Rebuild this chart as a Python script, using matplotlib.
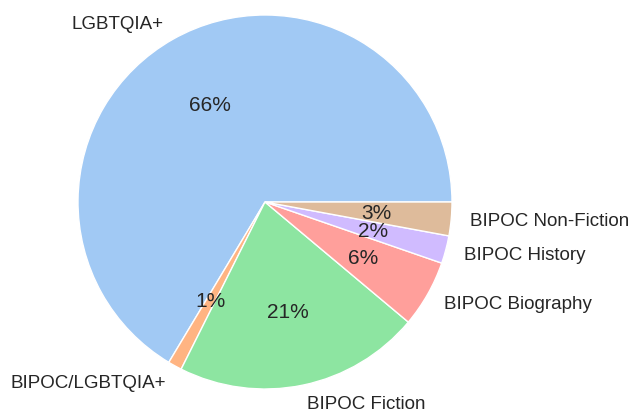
import matplotlib.pyplot as plt
import seaborn as sns

sns.set_theme(style='white', palette='pastel')
plt.rcParams['font.family'] = ['Liberation Sans', 'DejaVu Sans']

# share of titles per category (percent)
categorias = ['LGBTQIA+', 'BIPOC/LGBTQIA+', 'BIPOC Fiction', 'BIPOC Biography',
              'BIPOC History', 'BIPOC Non-Fiction']
valores = [66.4, 1.2, 21.3, 5.8, 2.4, 2.9]

cores = sns.color_palette('pastel')[:len(valores)]

fig = plt.figure(figsize=(6.39, 4.14), dpi=100)
ax = fig.add_axes([78 / 639, 24 / 414, 374 / 639, 374 / 414])
wedges, textos, pcts = ax.pie(valores, labels=categorias, colors=cores, autopct='%.0f%%',
                              textprops={'fontsize': 13.5},
                              wedgeprops={'edgecolor': 'white', 'linewidth': 1})
for p in pcts:
    p.set_fontsize(15)
ax.set_xlim(-1, 1)
ax.set_ylim(-1, 1)
ax.set_aspect('equal')

fig.savefig('out.png', dpi=100)
